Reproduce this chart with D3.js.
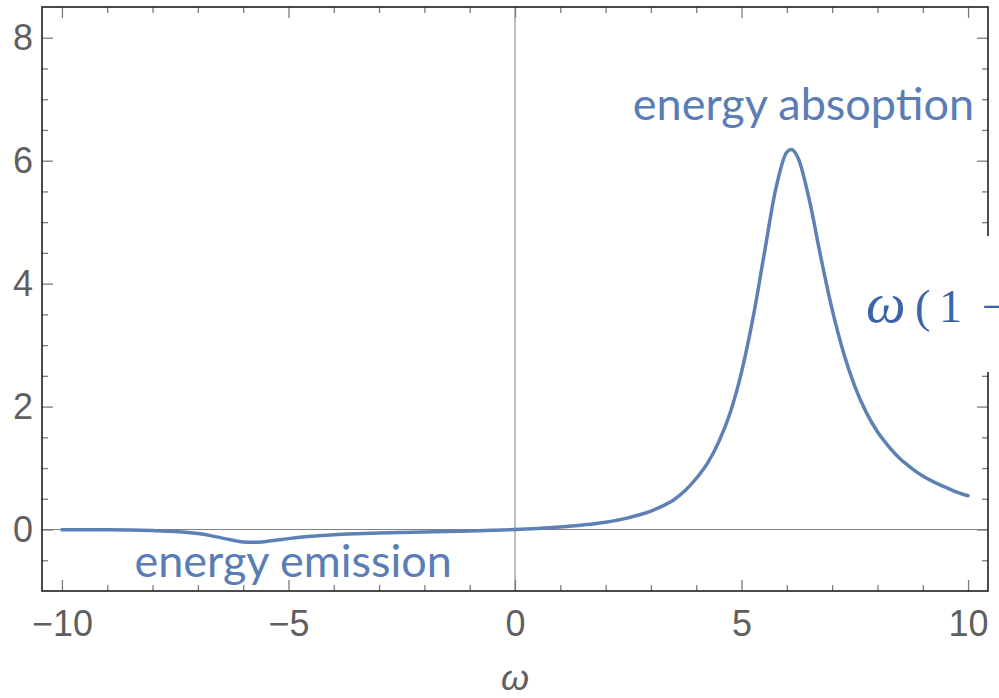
<!DOCTYPE html>
<html>
<head>
<meta charset="utf-8">
<script src="https://cdn.jsdelivr.net/npm/d3@7"></script>
<style>
  body { margin: 0; background: #ffffff; }
  svg { display: block; }
</style>
</head>
<body>
<svg id="chart" width="999" height="698"></svg>
<script>
// Frequency samples (ω) and the response curve values at those frequencies
const omega = [
  -10, -9.5, -9, -8.5, -8, -7.5, -7, -6.75, -6.5, -6.25, -6, -5.75, -5.5, -5.25, -5,
  -4.5, -4, -3.5, -3, -2.5, -2, -1.5, -1, -0.5, 0, 0.5, 1, 1.5, 2, 2.5, 2.75, 3, 3.25, 3.5, 3.75,
  4, 4.25, 4.5, 4.75, 5, 5.25, 5.5, 5.75, 6, 6.1, 6.25, 6.5, 6.75, 7, 7.25, 7.5, 7.75,
  8, 8.25, 8.5, 8.75, 9, 9.25, 9.5, 9.75, 10
];
const response = [
  -0.002, -0.003, -0.005, -0.009, -0.017, -0.032, -0.066, -0.095, -0.132, -0.171, -0.201, -0.208, -0.195, -0.172, -0.148,
  -0.110, -0.085, -0.069, -0.057, -0.048, -0.040, -0.033, -0.024, -0.013, 0, 0.018, 0.042, 0.075, 0.12, 0.19, 0.24, 0.30, 0.38, 0.48, 0.63,
  0.83, 1.08, 1.43, 1.90, 2.56, 3.43, 4.48, 5.52, 6.14, 6.18, 6.04, 5.35, 4.43, 3.58, 2.88, 2.33, 1.91,
  1.59, 1.35, 1.15, 1.00, 0.87, 0.77, 0.69, 0.61, 0.55
];

// Tick values
const xMajorTicks = [-10, -5, 0, 5, 10];
const xMinorTicks = [-9, -8, -7, -6, -4, -3, -2, -1, 1, 2, 3, 4, 6, 7, 8, 9];
const yMajorTicks = [0, 2, 4, 6, 8];
const yMinorTicks = [-0.5, 0.5, 1, 1.5, 2.5, 3, 3.5, 4.5, 5, 5.5, 6.5, 7, 7.5];

// Text labels
const xAxisTitle = "ω";
const annotations = [
  { text: "energy absoption", at: [2.6, 6.66] },
  { text: "energy emission", at: [-8.4, -0.77] }
];

const W = 999, H = 698;
const frame = { left: 42, right: 988, top: 7, bottom: 591 };

const svg = d3.select("#chart");

const x = d3.scaleLinear().domain([-10.44, 10.44]).range([frame.left, frame.right]);
const y = d3.scaleLinear().domain([-1, 8.5]).range([frame.bottom, frame.top]);

const tickColor = "#7b7b7b";
const labelColor = "#5f5f5f";
const curveColor = "#5e81b5";

// Zero axes
svg.append("line")
  .attr("x1", x(0)).attr("x2", x(0))
  .attr("y1", frame.top).attr("y2", frame.bottom)
  .attr("stroke", "#7f7f7f").attr("stroke-width", 1);
svg.append("line")
  .attr("x1", frame.left).attr("x2", frame.right)
  .attr("y1", y(0)).attr("y2", y(0))
  .attr("stroke", "#7f7f7f").attr("stroke-width", 1);

// Curve
const line = d3.line()
  .x((d, i) => x(omega[i]))
  .y(d => y(d))
  .curve(d3.curveMonotoneX);

svg.append("path")
  .datum(response)
  .attr("d", line)
  .attr("fill", "none")
  .attr("stroke", curveColor)
  .attr("stroke-width", 3.5)
  .attr("stroke-linejoin", "round")
  .attr("stroke-linecap", "round");

// Frame ticks on all four sides, pointing inward
function styleAxis(g) {
  g.select(".domain").remove();
  g.selectAll(".tick line").attr("stroke", tickColor).attr("stroke-width", 1.3);
  g.selectAll(".tick text")
    .attr("fill", labelColor)
    .style("font-family", "'Liberation Sans', Arial, sans-serif")
    .style("font-size", "36px");
}

const fmt = d3.format("d");

// bottom
svg.append("g").attr("transform", `translate(0,${frame.bottom})`)
  .call(d3.axisBottom(x).tickValues(xMajorTicks).tickSize(-11).tickPadding(19).tickFormat(fmt))
  .call(styleAxis);
svg.append("g").attr("transform", `translate(0,${frame.bottom})`)
  .call(d3.axisBottom(x).tickValues(xMinorTicks).tickSize(-6).tickFormat(""))
  .call(styleAxis);
// top
svg.append("g").attr("transform", `translate(0,${frame.top})`)
  .call(d3.axisTop(x).tickValues(xMajorTicks).tickSize(-11).tickFormat(""))
  .call(styleAxis);
svg.append("g").attr("transform", `translate(0,${frame.top})`)
  .call(d3.axisTop(x).tickValues(xMinorTicks).tickSize(-6).tickFormat(""))
  .call(styleAxis);
// left
svg.append("g").attr("transform", `translate(${frame.left},0)`)
  .call(d3.axisLeft(y).tickValues(yMajorTicks).tickSize(-11).tickPadding(9).tickFormat(fmt))
  .call(styleAxis);
svg.append("g").attr("transform", `translate(${frame.left},0)`)
  .call(d3.axisLeft(y).tickValues(yMinorTicks).tickSize(-6).tickFormat(""))
  .call(styleAxis);
// right
svg.append("g").attr("transform", `translate(${frame.right},0)`)
  .call(d3.axisRight(y).tickValues(yMajorTicks).tickSize(-11).tickFormat(""))
  .call(styleAxis);
svg.append("g").attr("transform", `translate(${frame.right},0)`)
  .call(d3.axisRight(y).tickValues(yMinorTicks).tickSize(-6).tickFormat(""))
  .call(styleAxis);

// Frame
svg.append("rect")
  .attr("x", frame.left).attr("y", frame.top)
  .attr("width", frame.right - frame.left).attr("height", frame.bottom - frame.top)
  .attr("fill", "none").attr("stroke", "#1e1e1e").attr("stroke-width", 1.6);

// x axis title
svg.append("text")
  .attr("x", x(0)).attr("y", 690)
  .attr("text-anchor", "middle")
  .attr("fill", labelColor)
  .style("font-family", "'Liberation Sans', Arial, sans-serif")
  .style("font-style", "italic")
  .style("font-size", "36px")
  .text(xAxisTitle);

// Annotations
svg.selectAll("text.note")
  .data(annotations)
  .join("text")
  .attr("class", "note")
  .attr("x", d => x(d.at[0]))
  .attr("y", d => y(d.at[1]))
  .attr("fill", "#5a7db5")
  .style("font-family", "Lato, 'Open Sans', sans-serif")
  .style("font-size", "45px")
  .text(d => d.text);

// Formula label on a white backing box at the right edge (runs off the canvas)
svg.append("rect")
  .attr("x", 863).attr("y", 236)
  .attr("width", W - 863).attr("height", 136)
  .attr("fill", "#ffffff");

const formula = svg.append("text")
  .attr("y", 322)
  .attr("fill", "#3b63a8")
  .style("font-family", "'Liberation Serif', 'Times New Roman', serif");
formula.append("tspan").attr("x", 866).style("font-style", "italic").style("font-size", "56px").text("ω");
formula.append("tspan").attr("x", 915).style("font-size", "46px").text("(");
formula.append("tspan").attr("x", 939).style("font-size", "46px").text("1");
formula.append("tspan").attr("x", 982).style("font-size", "46px").text("−");
</script>
</body>
</html>
